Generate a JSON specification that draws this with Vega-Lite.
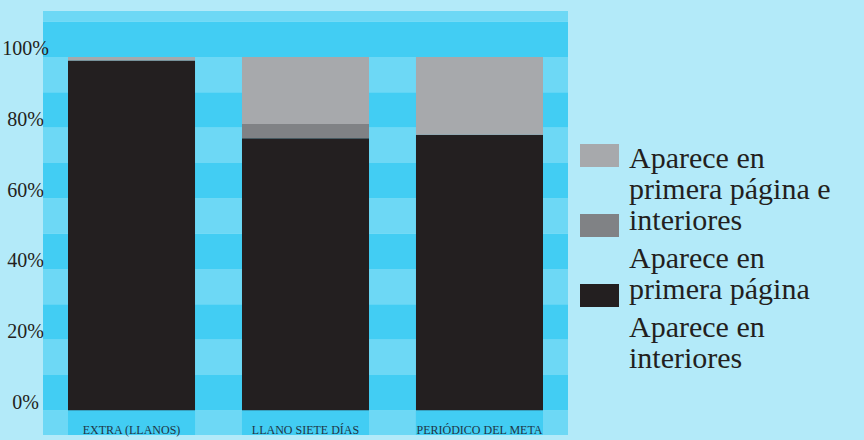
{
  "$schema": "https://vega.github.io/schema/vega-lite/v6.json",
  "width": 525,
  "height": 424,
  "autosize": {"type": "none"},
  "padding": {"left": 43, "top": 11, "right": 296, "bottom": 5},
  "background": "#b3eaf9",
  "config": {
    "view": {"stroke": null},
    "style": {"guide-label": {"lineHeight": 31}}
  },
  "datasets": {
    "barras": [
      {"medio": "EXTRA (LLANOS)", "serie": "Aparece en interiores", "orden": 1, "pct": 99},
      {"medio": "EXTRA (LLANOS)", "serie": "Aparece en primera página", "orden": 2, "pct": 0},
      {"medio": "EXTRA (LLANOS)", "serie": "Aparece en primera página e interiores", "orden": 3, "pct": 1},
      {"medio": "LLANO SIETE DÍAS", "serie": "Aparece en interiores", "orden": 1, "pct": 77},
      {"medio": "LLANO SIETE DÍAS", "serie": "Aparece en primera página", "orden": 2, "pct": 4},
      {"medio": "LLANO SIETE DÍAS", "serie": "Aparece en primera página e interiores", "orden": 3, "pct": 19},
      {"medio": "PERIÓDICO DEL META", "serie": "Aparece en interiores", "orden": 1, "pct": 78},
      {"medio": "PERIÓDICO DEL META", "serie": "Aparece en primera página", "orden": 2, "pct": 0},
      {"medio": "PERIÓDICO DEL META", "serie": "Aparece en primera página e interiores", "orden": 3, "pct": 22}
    ],
    "franjas": [
      {"desde": -7, "hasta": 0, "banda": "clara"},
      {"desde": 0, "hasta": 10, "banda": "oscura"},
      {"desde": 10, "hasta": 20, "banda": "clara"},
      {"desde": 20, "hasta": 30, "banda": "oscura"},
      {"desde": 30, "hasta": 40, "banda": "clara"},
      {"desde": 40, "hasta": 50, "banda": "oscura"},
      {"desde": 50, "hasta": 60, "banda": "clara"},
      {"desde": 60, "hasta": 70, "banda": "oscura"},
      {"desde": 70, "hasta": 80, "banda": "clara"},
      {"desde": 80, "hasta": 90, "banda": "oscura"},
      {"desde": 90, "hasta": 100, "banda": "clara"},
      {"desde": 100, "hasta": 110, "banda": "oscura"},
      {"desde": 110, "hasta": 113, "banda": "clara"}
    ],
    "leyenda": [
      {"serie": "Aparece en primera página e interiores"},
      {"serie": "Aparece en primera página"},
      {"serie": "Aparece en interiores"}
    ]
  },
  "layer": [
    {
      "data": {"name": "franjas"},
      "mark": {"type": "rect"},
      "encoding": {
        "y": {
          "field": "desde", "type": "quantitative",
          "scale": {"domain": [-7, 113], "nice": false, "zero": false},
          "axis": {"title": null, "values": [0, 20, 40, 60, 80, 100], "labelExpr": "datum.value + '%'", "grid": false, "domain": false, "ticks": false, "tickSize": 0, "labelAlign": "center", "labelPadding": 18, "labelBaseline": "alphabetic", "labelOffset": -2, "labelFont": "Liberation Serif", "labelFontSize": 20, "labelColor": "#231f20", "zindex": 1}
        },
        "y2": {"field": "hasta"},
        "fill": {"field": "banda", "type": "nominal", "scale": {"domain": ["oscura", "clara"], "range": ["#42cdf3", "#6dd8f5"]}, "legend": null}
      }
    },
    {
      "data": {"name": "barras"},
      "mark": {"type": "bar", "color": "#42cdf3"},
      "encoding": {
        "x": {
          "field": "medio", "type": "nominal", "sort": null,
          "scale": {"paddingInner": 0.27, "paddingOuter": 0.1437},
          "axis": {"title": null, "orient": "bottom", "domain": false, "ticks": false, "tickSize": 0, "labelPadding": -2, "labelBaseline": "alphabetic", "labelAngle": 0, "labelFont": "Liberation Serif", "labelFontSize": 12, "labelColor": "#1e3545", "zindex": 1}
        },
        "y": {"datum": -7, "type": "quantitative"},
        "y2": {"datum": 0}
      }
    },
    {
      "data": {"name": "barras"},
      "mark": {"type": "bar"},
      "encoding": {
        "x": {
          "field": "medio", "type": "nominal", "sort": null,
          "scale": {"paddingInner": 0.27, "paddingOuter": 0.1437},
          "axis": {"title": null, "orient": "bottom", "domain": false, "ticks": false, "tickSize": 0, "labelPadding": -2, "labelBaseline": "alphabetic", "labelAngle": 0, "labelFont": "Liberation Serif", "labelFontSize": 12, "labelColor": "#1e3545", "zindex": 1}
        },
        "y": {
          "field": "pct", "type": "quantitative", "stack": "zero",
          "scale": {"domain": [-7, 113], "nice": false, "zero": false},
          "axis": {"title": null, "values": [0, 20, 40, 60, 80, 100], "labelExpr": "datum.value + '%'", "grid": false, "domain": false, "ticks": false, "tickSize": 0, "labelAlign": "center", "labelPadding": 18, "labelBaseline": "alphabetic", "labelOffset": -2, "labelFont": "Liberation Serif", "labelFontSize": 20, "labelColor": "#231f20", "zindex": 1}
        },
        "color": {
          "field": "serie", "type": "nominal",
          "scale": {"domain": ["Aparece en primera página e interiores", "Aparece en primera página", "Aparece en interiores"], "range": ["#a7a9ac", "#808285", "#231f20"]},
          "legend": {"orient": "none", "legendX": 537, "legendY": 125, "title": null, "padding": 0, "symbolType": "M-1,-0.59H1V0.59H-1Z", "symbolSize": 1521, "symbolStrokeWidth": 0, "symbolOpacity": 1, "labelExpr": "''", "labelFontSize": 1, "rowPadding": 38}
        },
        "order": {"field": "orden", "type": "quantitative"}
      }
    },
    {
      "data": {"name": "leyenda"},
      "mark": {"type": "point", "opacity": 0},
      "encoding": {
        "shape": {
          "field": "serie", "type": "nominal", "sort": null,
          "legend": {"orient": "none", "legendX": 556, "legendY": 133, "title": null, "padding": 0, "symbolSize": 0, "symbolOpacity": 0, "symbolStrokeWidth": 0, "labelOffset": 0, "labelBaseline": "middle", "labelFont": "Liberation Serif", "labelFontSize": 30, "labelColor": "#231f20", "labelLimit": 400, "rowPadding": 8,
            "labelExpr": "datum.label == 'Aparece en primera página e interiores' ? ['Aparece en', 'primera página e', 'interiores'] : datum.label == 'Aparece en primera página' ? ['Aparece en', 'primera página'] : ['Aparece en', 'interiores']"}
        }
      }
    }
  ]
}
